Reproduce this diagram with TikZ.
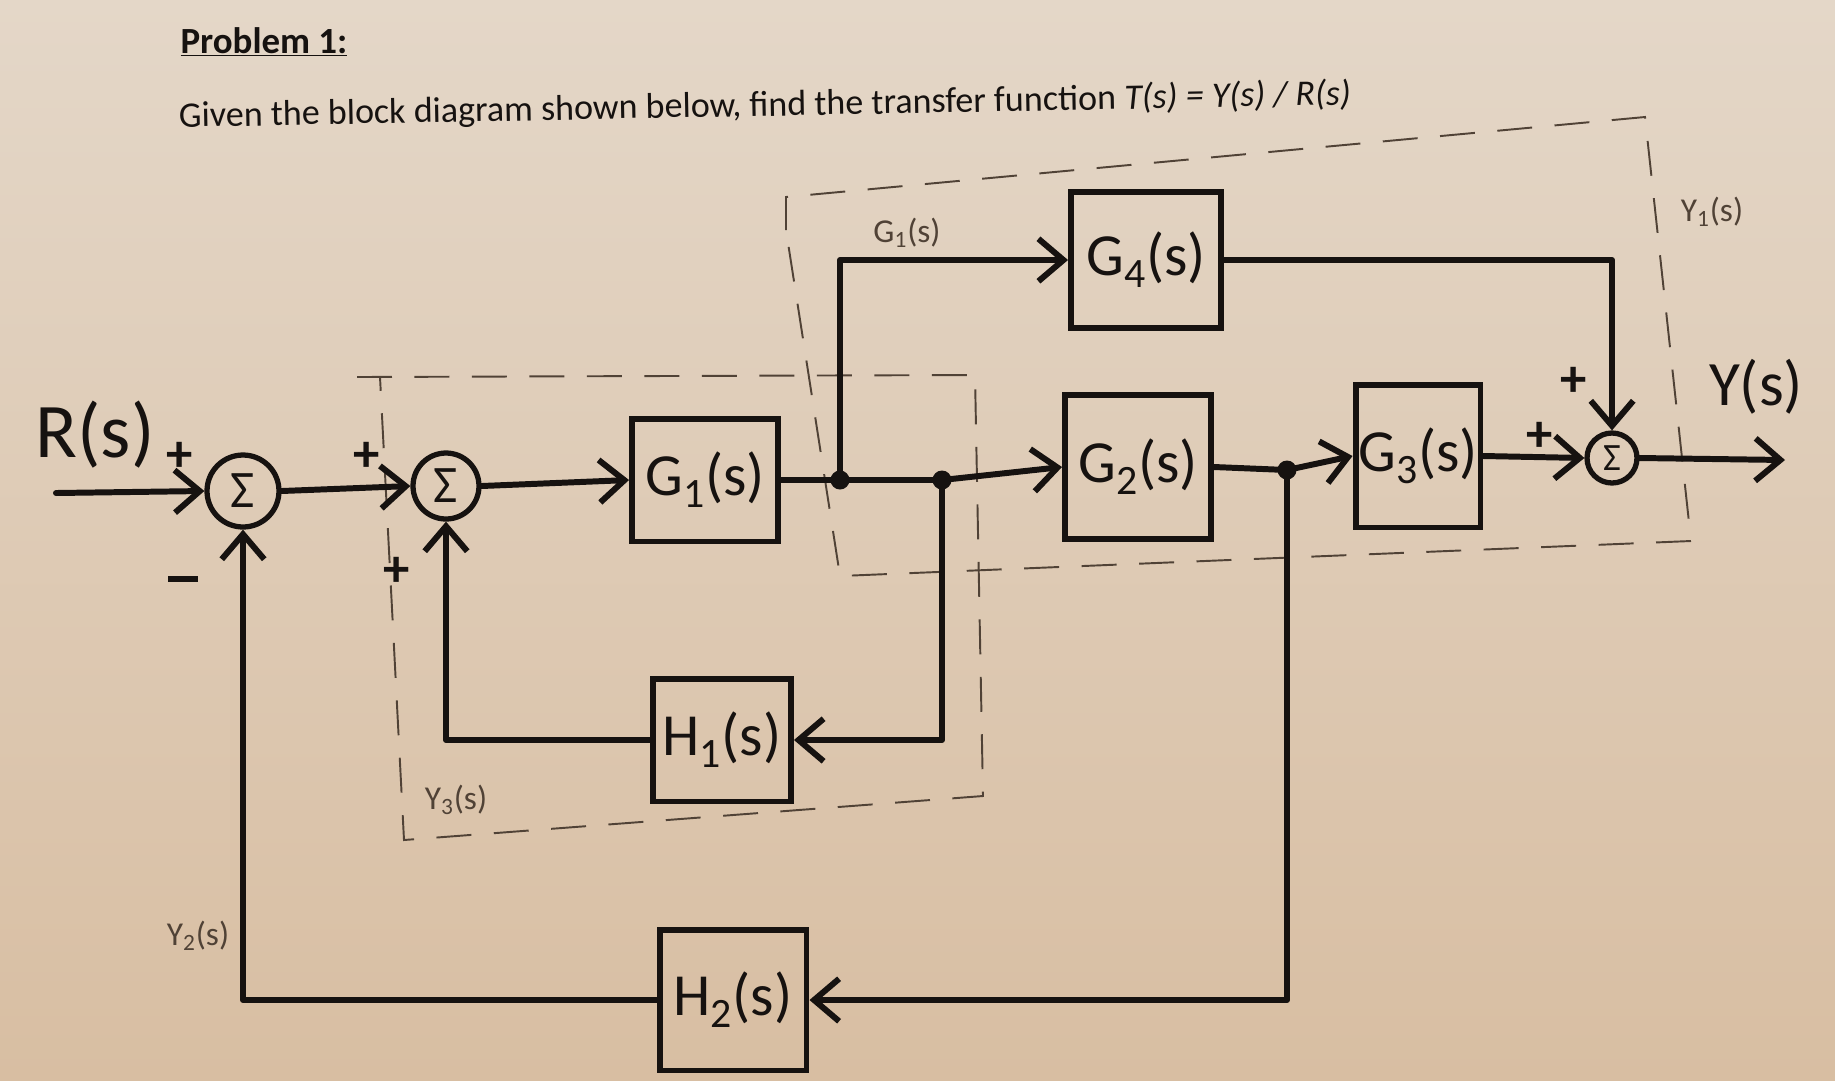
\documentclass[tikz,border=0pt]{standalone}
\usepackage{fontspec}
\setmainfont{Carlito}
\usetikzlibrary{arrows.meta,calc}
\definecolor{paperA}{RGB}{228,215,200}
\definecolor{paperB}{RGB}{216,190,162}
\definecolor{ink}{RGB}{22,18,16}
\definecolor{pencil}{RGB}{80,66,54}
\tikzset{
  wire/.style={draw=ink,line width=3.4pt,line cap=round,line join=round},
  arr/.style={wire,-{Straight Barb[length=0.5cm,width=0.85cm,line width=3.4pt]}},
  blk/.style={draw=ink,line width=3.4pt,inner sep=0pt,text=ink,font=\fontsize{34}{38}\selectfont},
  sumn/.style={circle,draw=ink,line width=3pt,inner sep=0pt,text=ink,font=\fontsize{30}{32}\selectfont},
  jdot/.style={circle,fill=ink,inner sep=0pt,minimum size=0.38cm},
  pencl/.style={text=pencil,font=\fontsize{19}{22}\selectfont},
  sgn/.style={text=ink,font=\bfseries\fontsize{30}{32}\selectfont,inner sep=0pt},
  dbox/.style={draw=pencil,line width=1.1pt,dash pattern=on 0.7cm off 0.45cm}
}
\begin{document}
\begin{tikzpicture}[x=0.02cm,y=-0.02cm]
\shade[top color=paperA,bottom color=paperB] (0,0) rectangle (1835,1080);
\useasboundingbox (0,0) rectangle (1835,1080);

% title
\node[text=ink,font=\bfseries\fontsize{21}{24}\selectfont] (title) at (264,42) {\underline{Problem 1:}};
\node[text=ink,font=\fontsize{20.5}{24}\selectfont,rotate=1.1] (given) at (765,106)
  {Given the block diagram shown below, find the transfer function \textit{T(s) = Y(s) / R(s)}};

% dashed boxes (pencil)
\draw[dbox] (357,377) -- (975,375) -- (983,796) -- (404,840) -- (380,377);
\draw[dbox] (786,230) -- (786,197) -- (1645,117) -- (1691,541) -- (840,576) -- cycle;

% blocks
\node[sumn,minimum size=1.44cm] (s1) at (243,491) {Σ};
\node[sumn,minimum size=1.32cm] (s2) at (446,486) {Σ};
\node[blk,minimum width=2.92cm,minimum height=2.46cm] (G1) at (705,480) {G\textsubscript{1}(s)};
\node[jdot] (d1) at (840,480) {};
\node[jdot] (d2) at (942,480) {};
\node[blk,minimum width=3.0cm,minimum height=2.72cm] (G4) at (1146,260) {G\textsubscript{4}(s)};
\node[blk,minimum width=2.92cm,minimum height=2.88cm] (G2) at (1138,467) {G\textsubscript{2}(s)};
\node[jdot] (d3) at (1287,470) {};
\node[blk,minimum width=2.5cm,minimum height=2.86cm] (G3) at (1418,456) {G\textsubscript{3}(s)};
\node[sumn,minimum size=1.0cm,font=\fontsize{22}{24}\selectfont] (s3) at (1612,458) {Σ};
\node[blk,minimum width=2.76cm,minimum height=2.46cm] (H1) at (722,740) {H\textsubscript{1}(s)};
\node[blk,minimum width=2.94cm,minimum height=2.82cm] (H2) at (733,1000) {H\textsubscript{2}(s)};

\coordinate (in) at (56,493);
\coordinate (out) at (1785,460);

% forward path
\draw[arr] (in) -- (s1.west);
\draw[arr] (s1.east) -- (s2.west);
\draw[arr] (s2.east) -- (G1.west);
\draw[wire] (G1.east) -- (d1.center) -- (d2.center);
\draw[arr] (d2.center) -- (G2.west);
\draw[arr] (d1.center) |- (G4.west);
\draw[wire] (G2.east) -- (d3.center);
\draw[arr] (d3.center) -- (G3.west);
\draw[arr] (G3.east) -- (s3.west);
\draw[arr] (G4.east) -| (s3.north);
\draw[arr] (s3.east) -- (out);

% feedback paths
\draw[arr] (d2.center) |- (H1.east);
\draw[arr] (H1.west) -| (s2.south);
\draw[arr] (d3.center) |- (H2.east);
\draw[arr] (H2.west) -| (s1.south);

% signs
\node[sgn] (p1) at (180,457) {+};
\node[sgn] (m1) at (183,579) {\rule{0.6cm}{3.5pt}};
\node[sgn] (p2) at (367,457) {+};
\node[sgn] (p3) at (397,572) {+};
\node[sgn] (p4) at (1574,382) {+};
\node[sgn] (p5) at (1540,437) {+};

% labels
\node[text=ink,font=\fontsize{44}{48}\selectfont] (R) at (95,435) {R(s)};
\node[text=ink,font=\fontsize{36}{40}\selectfont] (Y) at (1756,387) {Y(s)};
\node[pencl] (lg1) at (907,233) {G\textsubscript{1}(s)};
\node[pencl] (ly1) at (1712,212) {Y\textsubscript{1}(s)};
\node[pencl] (ly3) at (456,800) {Y\textsubscript{3}(s)};
\node[pencl] (ly2) at (198,936) {Y\textsubscript{2}(s)};
\end{tikzpicture}
\end{document}
